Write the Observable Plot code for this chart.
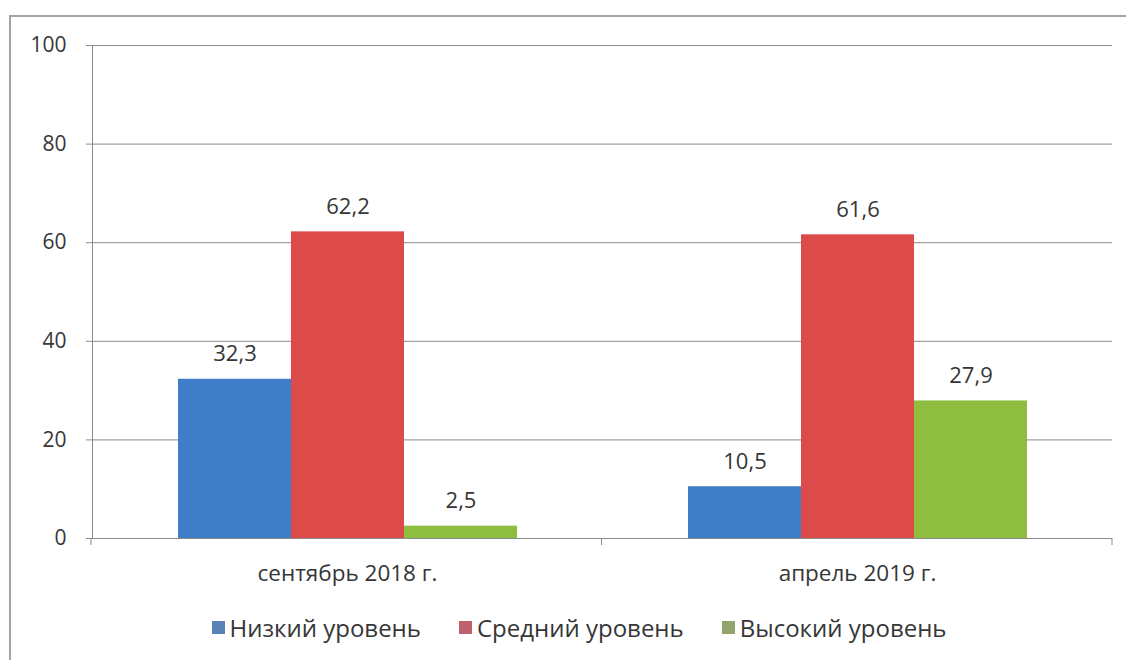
<!DOCTYPE html>
<html>
<head>
<meta charset="utf-8">
<script src="https://cdn.jsdelivr.net/npm/d3@7"></script>
<script src="https://cdn.jsdelivr.net/npm/@observablehq/plot@0.6"></script>
<style>
  html, body { margin: 0; padding: 0; background: #fff; width: 1126px; height: 660px; overflow: hidden; }
  #frame { position: absolute; left: 9px; top: 15px; width: 1130px; height: 660px; border: 2px solid #a3a3a3; box-sizing: border-box; }
  #chart { position: absolute; left: 0; top: 0; }
  #chart svg text { fill: #363636; }
  #legend { position: absolute; left: 0; top: 611px; width: 1158px; display: flex; justify-content: center; gap: 38px;
            font-family: "Open Sans", sans-serif; font-size: 24px; color: #363636; }
  #legend .item { display: flex; align-items: center; }
  #legend .sw { width: 13px; height: 13px; margin-right: 5px; display: inline-block; }
</style>
</head>
<body>
<div id="frame"></div>
<div id="chart"></div>
<div id="legend"></div>
<script>
const categories = ["сентябрь 2018 г.", "апрель 2019 г."];
const levels = ["Низкий уровень", "Средний уровень", "Высокий уровень"];
const low = [32.3, 10.5];
const mid = [62.2, 61.6];
const high = [2.5, 27.9];
const yTicks = [0, 20, 40, 60, 80, 100];
const barColors = ["#3f7dc9", "#dc4a4a", "#8fbd40"];
const legendColors = ["#5a82b4", "#c0606e", "#93a36c"];

const series = [low, mid, high];
const data = [];
categories.forEach((c, i) => {
  levels.forEach((l, j) => data.push({period: c, level: l, value: series[j][i]}));
});
const fmt = v => String(v).replace(".", ",");

const chart = Plot.plot({
  width: 1126,
  height: 600,
  marginLeft: 91,
  marginRight: 14,
  marginTop: 45,
  marginBottom: 62,
  style: { fontFamily: "'Open Sans', sans-serif", fontSize: "21px", color: "#8a8a8a", background: "transparent", overflow: "visible" },
  fx: { domain: categories, padding: 0, label: null, axis: "bottom", tickSize: 0, tickPadding: 27 },
  x: { domain: levels, axis: null, paddingInner: 0, paddingOuter: 0.75 },
  y: { domain: [0, 100], ticks: yTicks, tickSize: 6, tickPadding: 20, label: null, line: true, tickFormat: d => d },
  color: { domain: levels, range: barColors },
  marks: [
    Plot.ruleY(yTicks, { stroke: "#8a8a8a", strokeWidth: 1 }),
    Plot.barY(data, { fx: "period", x: "level", y: "value", fill: "level" }),
    Plot.text(data, { fx: "period", x: "level", y: "value", text: d => fmt(d.value), dy: -25, fill: "#363636", fontSize: 22 })
  ]
});
document.getElementById("chart").appendChild(chart);
d3.select(chart).selectAll("[aria-label='fx-axis'] text, g[aria-label^='fx-axis'] text").style("font-size", "22.5px");

// category boundary tick marks on the baseline (Excel style)
const fx = chart.scale("fx");
const yS = chart.scale("y");
const svg = d3.select(chart);
const r0 = fx.range[0], r1 = fx.range[1];
const n = fx.domain.length;
const step = (r1 - r0) / n;
const y0 = (yS.apply ? yS.apply(0) : 538);
for (let k = 0; k <= n; k++) {
  const xx = r0 + k * step;
  svg.append("line").attr("x1", xx).attr("x2", xx).attr("y1", y0).attr("y2", y0 + 7)
    .attr("stroke", "#8a8a8a");
}

const legend = d3.select("#legend");
levels.forEach((l, i) => {
  const it = legend.append("div").attr("class", "item");
  it.append("span").attr("class", "sw").style("background", legendColors[i]);
  it.append("span").text(l);
});
</script>
</body>
</html>
